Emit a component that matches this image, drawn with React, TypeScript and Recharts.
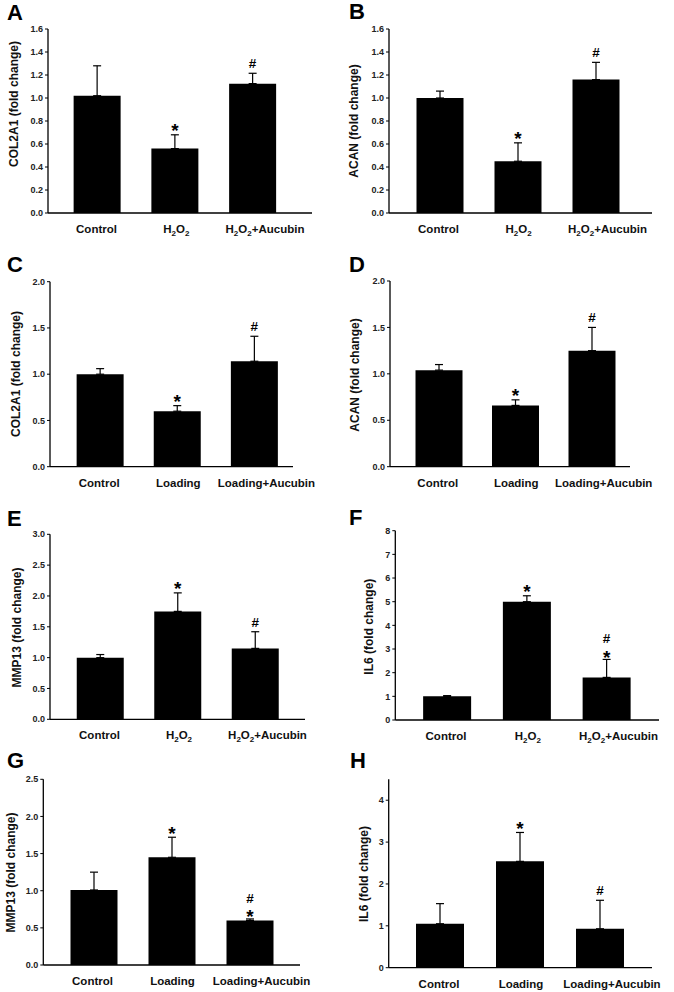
import React from 'react';
import { BarChart, Bar, XAxis, YAxis, ErrorBar, LabelList } from 'recharts';

const FONT = '"Liberation Sans", Arial, Helvetica, sans-serif';

// group names
const groupsH2O2 = ['Control', 'H2O2', 'H2O2+Aucubin'];
const groupsLoading = ['Control', 'Loading', 'Loading+Aucubin'];

// means and upper error (SD)
const colH2O2 = [1.02, 0.56, 1.125];
const colH2O2Err = [0.26, 0.12, 0.09];
const acanH2O2 = [1.0, 0.45, 1.16];
const acanH2O2Err = [0.06, 0.16, 0.15];
const colLoad = [1.0, 0.6, 1.14];
const colLoadErr = [0.06, 0.06, 0.27];
const acanLoad = [1.04, 0.66, 1.25];
const acanLoadErr = [0.06, 0.06, 0.25];
const mmpH2O2 = [1.0, 1.75, 1.15];
const mmpH2O2Err = [0.05, 0.3, 0.27];
const il6H2O2 = [1.0, 5.0, 1.8];
const il6H2O2Err = [0.03, 0.25, 0.76];
const mmpLoad = [1.01, 1.45, 0.6];
const mmpLoadErr = [0.24, 0.27, 0.02];
const il6Load = [1.05, 2.54, 0.93];
const il6LoadErr = [0.48, 0.69, 0.68];

// significance marks
const marksStd = ['', '*', '#'];
const marksBoth = ['', '*', '#*'];

// y ticks
const ticks16 = [0, 0.2, 0.4, 0.6, 0.8, 1.0, 1.2, 1.4, 1.6];
const ticks20 = [0, 0.5, 1.0, 1.5, 2.0];
const ticks30 = [0, 0.5, 1.0, 1.5, 2.0, 2.5, 3.0];
const ticks8 = [0, 1, 2, 3, 4, 5, 6, 7, 8];
const ticks25 = [0, 0.5, 1.0, 1.5, 2.0, 2.5];
const ticks4 = [0, 1, 2, 3, 4];

const labelShift = [-1, 1, 12];

const panels = [
  { letter: 'A', title: 'COL2A1 (fold change)', groups: groupsH2O2, values: colH2O2, errors: colH2O2Err, marks: marksStd, ticks: ticks16, max: 1.6, dec: 1,
    box: { left: 0, top: 0, axisX: 48, plotTop: 29, plotBottom: 213, xEnd: 312, c1: 97.5, c3: 253, barW: 47 }, lp: [7, 20], tp: [15.3, 104] },
  { letter: 'B', title: 'ACAN (fold change)', groups: groupsH2O2, values: acanH2O2, errors: acanH2O2Err, marks: marksStd, ticks: ticks16, max: 1.6, dec: 1,
    box: { left: 337, top: 0, axisX: 389, plotTop: 29, plotBottom: 213, xEnd: 652, c1: 439.5, c3: 595.5, barW: 47 }, lp: [349, 19], tp: [355, 121] },
  { letter: 'C', title: 'COL2A1 (fold change)', groups: groupsLoading, values: colLoad, errors: colLoadErr, marks: marksStd, ticks: ticks20, max: 2.0, dec: 1,
    box: { left: 0, top: 240, axisX: 50, plotTop: 281.7, plotBottom: 466.7, xEnd: 293, c1: 100.5, c3: 256, barW: 47 }, lp: [7, 272], tp: [17, 374] },
  { letter: 'D', title: 'ACAN (fold change)', groups: groupsLoading, values: acanLoad, errors: acanLoadErr, marks: marksStd, ticks: ticks20, max: 2.0, dec: 1,
    box: { left: 337, top: 240, axisX: 390, plotTop: 281, plotBottom: 466.7, xEnd: 630, c1: 439.5, c3: 595.5, barW: 47 }, lp: [349, 272], tp: [355.7, 375] },
  { letter: 'E', title: 'MMP13 (fold change)', groups: groupsH2O2, values: mmpH2O2, errors: mmpH2O2Err, marks: marksStd, ticks: ticks30, max: 3.0, dec: 1,
    box: { left: 0, top: 490, axisX: 50, plotTop: 534.3, plotBottom: 719.3, xEnd: 305, c1: 100.5, c3: 255.5, barW: 47 }, lp: [7, 526], tp: [17.7, 627.5] },
  { letter: 'F', title: 'IL6 (fold change)', groups: groupsH2O2, values: il6H2O2, errors: il6H2O2Err, marks: marksBoth, ticks: ticks8, max: 8, dec: 0,
    box: { left: 337, top: 490, axisX: 395.3, plotTop: 530.7, plotBottom: 720, xEnd: 659, c1: 447, c3: 606.5, barW: 48 }, lp: [349, 525], tp: [370, 626.7] },
  { letter: 'G', title: 'MMP13 (fold change)', groups: groupsLoading, values: mmpLoad, errors: mmpLoadErr, marks: marksBoth, ticks: ticks25, max: 2.5, dec: 1,
    box: { left: 0, top: 740, axisX: 43.3, plotTop: 779.3, plotBottom: 965, xEnd: 300, c1: 93.5, c3: 249.5, barW: 47 }, lp: [7, 768], tp: [11.5, 872.5] },
  { letter: 'H', title: 'IL6 (fold change)', groups: groupsLoading, values: il6Load, errors: il6LoadErr, marks: marksStd, ticks: ticks4, max: 4.5, dec: 0,
    box: { left: 337, top: 740, axisX: 388.7, plotTop: 779.3, plotBottom: 967.7, xEnd: 652, c1: 440, c3: 600, barW: 48 }, lp: [350, 768], tp: [365, 874] },
];

// H2O2 with subscripts
const chemLabel = (s: string) => {
  if (!s.startsWith('H2O2')) return s;
  const rest = s.slice(4);
  return [
    <tspan key="h">H</tspan>,
    <tspan key="s1" dy={3} fontSize={8}>2</tspan>,
    <tspan key="o" dy={-3}>O</tspan>,
    <tspan key="s2" dy={3} fontSize={8}>2</tspan>,
    <tspan key="r" dy={-3}>{rest}</tspan>,
  ];
};

const GroupTick = (props: any) => {
  const { x, y, payload, index } = props;
  return (
    <text x={x + (labelShift[index] ?? 0)} y={y + 20} textAnchor="middle" fontFamily={FONT} fontWeight="bold" fontSize={11.5} fill="#111">
      {chemLabel(String(payload.value))}
    </text>
  );
};

const markRenderer = (vals: number[], errs: number[]) => (props: any) => {
  const vb = props.viewBox || {};
  const x = vb.x ?? props.x;
  const y = vb.y ?? props.y;
  const w = vb.width ?? props.width;
  const h = vb.height ?? props.height;
  const i = props.index;
  const mark = String(props.value ?? '');
  if (!mark || x == null) return null;
  const ppu = h / vals[i];
  const errTop = y - errs[i] * ppu;
  const cx = x + w / 2;
  const style = { fontFamily: FONT, fontWeight: 'bold' as const, fill: '#000' };
  if (mark === '#*') {
    return (
      <g>
        <text x={cx} y={errTop + 4.5} textAnchor="middle" fontSize={19} {...style}>*</text>
        <text x={cx} y={errTop - 16} textAnchor="middle" fontSize={13.5} {...style}>#</text>
      </g>
    );
  }
  if (mark === '*') {
    return <text x={cx} y={errTop + 2.5} textAnchor="middle" fontSize={19} {...style}>*</text>;
  }
  return <text x={cx} y={errTop - 5} textAnchor="middle" fontSize={13.5} {...style}>#</text>;
};

const Panel = ({ p }: { p: (typeof panels)[number] }) => {
  const b = p.box;
  const width = 337;
  const height = b.plotBottom - b.top + 40;
  const yw = 40;
  const spacing = (b.c3 - b.c1) / 2;
  const padL = Math.max(0, b.c1 - spacing / 2 - b.axisX);
  const padR = Math.max(0, b.xEnd - b.c3 - spacing / 2);
  const data = p.groups.map((g, i) => ({ name: g, v: p.values[i], e: [0, p.errors[i]], m: p.marks[i] }));
  return (
    <div style={{ position: 'absolute', left: b.left, top: b.top, width, height }}>
      <BarChart
        width={width}
        height={height}
        data={data}
        margin={{ top: b.plotTop - b.top, right: b.left + width - b.xEnd, bottom: 10, left: b.axisX - b.left - yw }}
        barCategoryGap={0}
      >
        <XAxis
          dataKey="name"
          height={30}
          padding={{ left: padL, right: padR }}
          axisLine={{ stroke: '#000', strokeWidth: 1.3 }}
          tickLine={false}
          tickSize={0}
          tickMargin={0}
          interval={0}
          tick={<GroupTick />}
        />
        <YAxis
          width={yw}
          domain={[0, p.max]}
          ticks={p.ticks}
          allowDataOverflow
          axisLine={{ stroke: '#000', strokeWidth: 1.3 }}
          tickLine={{ stroke: '#000', strokeWidth: 1 }}
          tickSize={3}
          tickMargin={2}
          tickFormatter={(v: number) => v.toFixed(p.dec)}
          tick={{ fontFamily: FONT, fontWeight: 'bold', fontSize: 9, fill: '#222' }}
        />
        <Bar dataKey="v" fill="#000" barSize={b.barW} isAnimationActive={false}>
          <ErrorBar dataKey="e" direction="y" width={4} stroke="#000" strokeWidth={1.2} isAnimationActive={false} />
          <LabelList dataKey="m" content={markRenderer(p.values, p.errors)} />
        </Bar>
      </BarChart>
    </div>
  );
};

export default function App() {
  return (
    <div style={{ position: 'absolute', left: 0, top: 0, width: 674, height: 992, background: '#fff', overflow: 'hidden' }}>
      <svg width={674} height={992} style={{ position: 'absolute', left: 0, top: 0 }}>
        {panels.map((p) => (
          <g key={p.letter}>
            <text x={p.lp[0]} y={p.lp[1]} fontFamily={FONT} fontWeight="bold" fontSize={22} fill="#000">{p.letter}</text>
            <text
              transform={`translate(${p.tp[0] + 3},${p.tp[1]}) rotate(-90)`}
              textAnchor="middle"
              fontFamily={FONT}
              fontWeight="bold"
              fontSize={12}
              fill="#111"
            >
              {p.title}
            </text>
          </g>
        ))}
      </svg>
      {panels.map((p) => (
        <Panel key={p.letter} p={p} />
      ))}
    </div>
  );
}
